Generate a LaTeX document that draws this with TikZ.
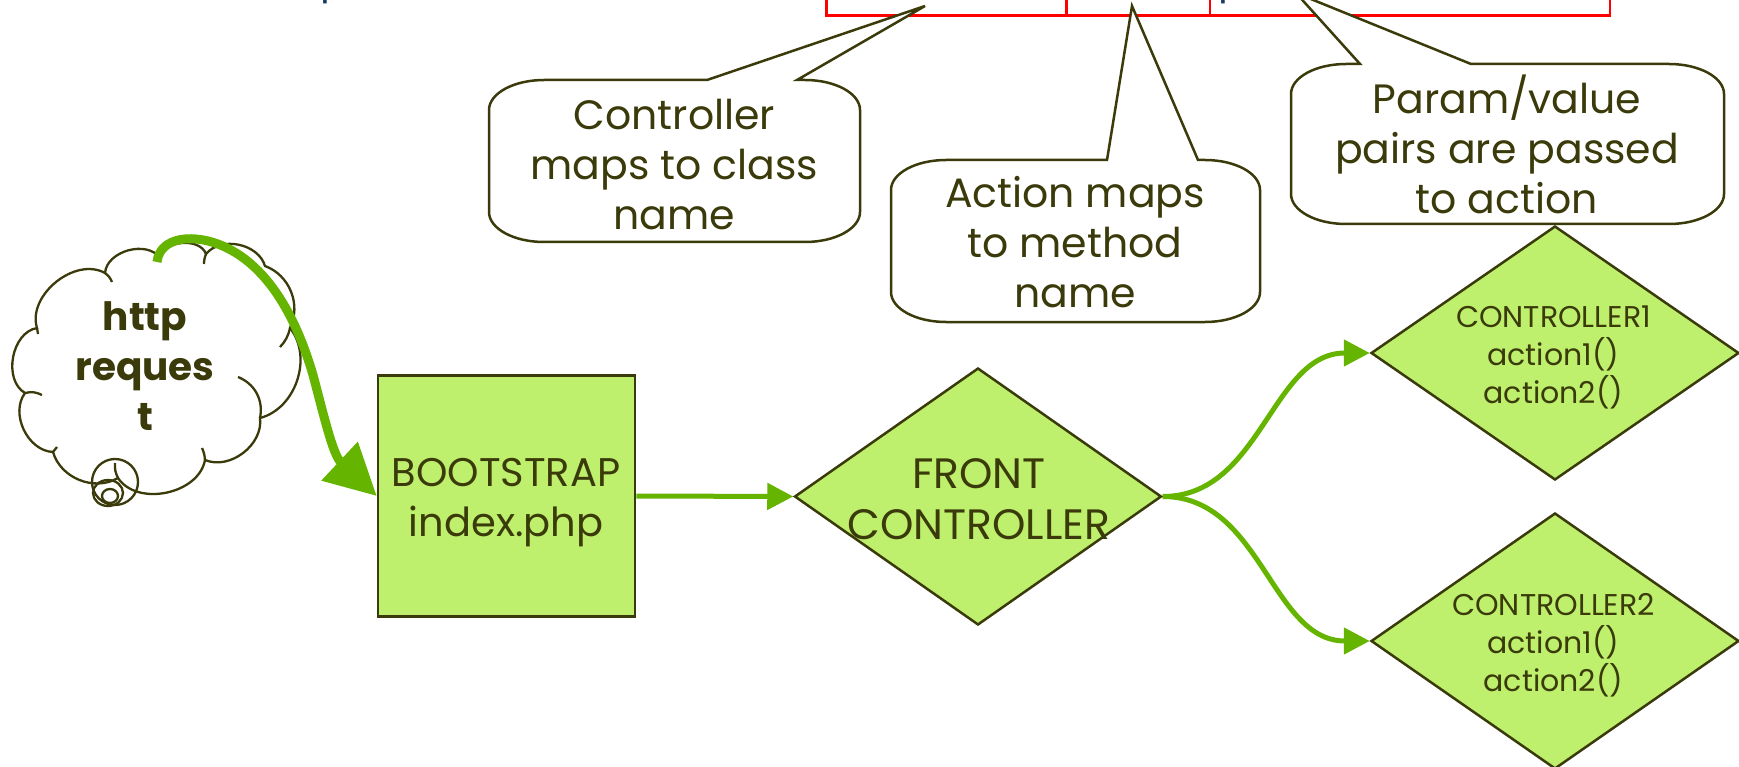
\documentclass[tikz,border=0pt]{standalone}
\usepackage{fontspec}
\setmainfont{Poppins}
\usetikzlibrary{shapes.geometric,arrows.meta}
\definecolor{ink}{RGB}{58,58,10}
\definecolor{boxfill}{RGB}{190,240,110}
\definecolor{flowgreen}{RGB}{100,180,0}
\definecolor{urlblue}{RGB}{25,60,100}
\definecolor{tablered}{RGB}{255,0,0}
\newcommand{\mycallout}[7]{%
  \draw[calloutbox] ({#1+55},#3) -- (#5,#3) -- (#7) -- (#6,#3) -- ({#2-55},#3)
    arc[start angle=-90,end angle=0,x radius=55,y radius=30]
    -- (#2,{#4-30})
    arc[start angle=0,end angle=90,x radius=55,y radius=30]
    -- ({#1+55},#4)
    arc[start angle=90,end angle=180,x radius=55,y radius=30]
    -- (#1,{#3+30})
    arc[start angle=180,end angle=270,x radius=55,y radius=30]
    -- cycle;}
\begin{document}
\begin{tikzpicture}[x=1pt,y=-1pt,
  calloutbox/.style={draw=ink,line width=2.5pt,fill=white,line join=miter},
  callouttext/.style={text=ink,align=center,font=\fontsize{41}{50}\selectfont},
  rectbox/.style={draw=ink,line width=2.5pt,fill=boxfill,inner sep=0pt},
  dia/.style={diamond,draw=ink,line width=2.5pt,fill=boxfill,inner sep=0pt},
  bigtext/.style={text=ink,align=center,font=\fontsize{40}{50.5}\selectfont},
  fronttext/.style={text=ink,align=center,font=\fontsize{42.5}{51}\selectfont},
  smalltext/.style={text=ink,align=center,font=\fontsize{30}{38}\selectfont},
  cloudtext/.style={text=ink,align=center,font=\bfseries\fontsize{39}{50}\selectfont},
  cloudline/.style={draw=ink,line width=2.3pt},
  flow/.style={draw=flowgreen,line width=5pt,-{Triangle[length=26pt,width=26pt]}},
  bigflow/.style={draw=flowgreen,line width=9pt,-{Triangle[length=51pt,width=51pt]}},
  urltext/.style={text=urlblue,inner sep=0pt,font=\fontsize{40}{48}\selectfont},
  tableline/.style={draw=tablered,line width=2.5pt}
]
\useasboundingbox (0,0) rectangle (1739,767);
\clip (0,0) rectangle (1739,767);
% table at top (cut off)
\draw[tableline] (826.7,-40) -- (826.7,15.7) -- (1610,15.7) -- (1610,-40);
\draw[tableline] (1066.7,-40) -- (1066.7,15.7);
\draw[tableline] (1210,-40) -- (1210,15.7);
\node[urltext,anchor=base west] (urlA) at (320,-6) {p};
\node[urltext,anchor=base west] (urlB) at (1218,-6) {p};
% callouts
\coordinate (tip1) at (925,6);
\coordinate (tip2) at (1132,6);
\coordinate (tip3) at (1296,-7);
\mycallout{489}{860}{80}{242}{707}{797}{tip1}
\mycallout{891}{1260}{160}{322}{1107}{1198}{tip2}
\mycallout{1291}{1724}{64}{224}{1360}{1471}{tip3}
\node[callouttext] (ct1) at (674.5,164.5) {Controller\\maps to class\\name};
\node[callouttext] (ct2) at (1075,242.5) {Action maps\\to method\\name};
\node[callouttext] (ct3) at (1507,144) {Param/value\\pairs are passed\\to action};
% cloud
\path[cloudline,fill=white] (105,273) to[bend left=70] (160,258) to[bend left=75] (206,254)
  to[bend left=62] (265,266) to[bend left=48] (290,328) to[bend left=57] (260,418)
  to[bend left=60] (205,460) to[bend left=68] (118,478) to[bend left=52] (53,452)
  to[bend left=62] (25,393) to[bend left=70] (37,328) to[bend left=68] (105,273) -- cycle;
\draw[cloudline] (105,273) to[bend left=15] (112,282);
\draw[cloudline] (206,254) to[bend right=10] (204,264);
\draw[cloudline] (290,328) to[bend left=15] (280,347);
\draw[cloudline] (238,377) to[bend left=40] (260,418);
\draw[cloudline] (205,460) to[bend right=10] (202,448);
\draw[cloudline] (115,463) to[bend right=15] (118,478);
\draw[cloudline] (53,452) -- (57,447);
\draw[cloudline] (25,393) to[bend left=20] (42,395);
\draw[cloudline] (37,328) -- (38,334);
\draw[cloudline] (115,482) circle[radius=23];
\draw[cloudline] (108,493) ellipse[x radius=15,y radius=13];
\draw[cloudline] (110,496) ellipse[x radius=8,y radius=7];
\node[cloudtext] (req) at (145,366) {http\\reques\\t};
% boxes
\node[rectbox,minimum width=257pt,minimum height=241pt] (boot) at (506.5,496) {};
\node[bigtext] (boottxt) at (506,502.7) {BOOTSTRAP\\index.php};
\node[dia,minimum width=367pt,minimum height=257pt] (front) at (978,496.5) {};
\node[fronttext] (fronttxt) at (979,499) {FRONT\\CONTROLLER};
\node[dia,minimum width=368pt,minimum height=254pt] (c1) at (1555,353) {};
\node[smalltext] (c1txt) at (1553.5,357) {CONTROLLER1\\action1()\\action2()};
\node[dia,minimum width=368pt,minimum height=256pt] (c2) at (1555,641) {};
\node[smalltext] (c2txt) at (1553.5,645) {CONTROLLER2\\action1()\\action2()};
% connectors
\coordinate (cloudstart) at (157,262);
\draw[bigflow] (cloudstart) .. controls (160,236) and (195,233) .. (225,247)
  .. controls (270,268) and (297,320) .. (313,375)
  .. controls (325,420) and (333,455) .. (boot.west);
\draw[flow] (boot.east) -- (front.west);
\draw[flow] (front.east) to[out=0,in=180] (c1.west);
\draw[flow] (front.east) to[out=0,in=180] (c2.west);
\end{tikzpicture}
\end{document}
